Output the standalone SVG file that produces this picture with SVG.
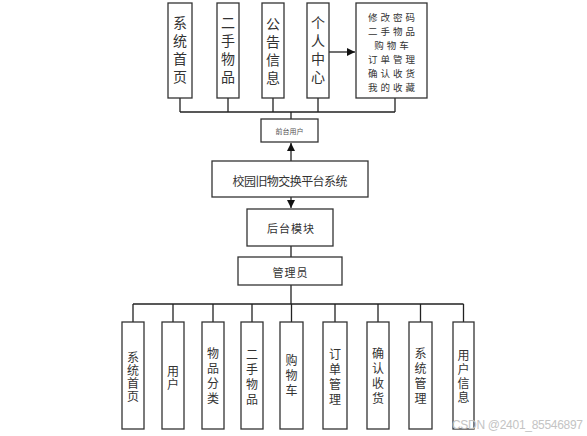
<svg xmlns="http://www.w3.org/2000/svg" width="587" height="436" viewBox="0 0 587 436">
<defs>
<style>
.box{fill:#fff;stroke:#333;stroke-width:1.3}
.ln{stroke:#222;stroke-width:1.3;fill:none}
.t{font-family:"Noto Sans CJK SC","Liberation Sans",sans-serif;fill:#333;text-anchor:middle;dominant-baseline:central}
.vt{writing-mode:vertical-rl;text-orientation:upright}
.v14{font-size:14px;letter-spacing:4px}
.v12{font-size:12px;letter-spacing:3px}
.m11{font-size:11px;letter-spacing:1px}
.s{font-size:9.5px;letter-spacing:3px}
</style>
<marker id="ah" viewBox="0 0 10 10" refX="10" refY="5" markerWidth="8" markerHeight="8" markerUnits="userSpaceOnUse" orient="auto">
<path d="M0,0 L10,5 L0,10 z" fill="#111"/>
</marker>
</defs>
<rect width="587" height="436" fill="#fff"/>
<g id="connectors">
<path class="ln" d="M180,98V112M228,98V112M273,98V112M318,98V112M395,98V112M180,112H395M291,112V119"/>
<path class="ln" d="M329,52H355" marker-end="url(#ah)"/>
<path class="ln" d="M291,161V143" marker-end="url(#ah)"/>
<path class="ln" d="M291,197V208" marker-end="url(#ah)"/>
<path class="ln" d="M291,246V257M291,285V304M133,304H463.5"/>
<path class="ln" d="M133,304V322M173,304V322M213,304V322M252,304V322M291.5,304V322M335,304V322M378,304V322M420.5,304V322M463.5,304V322"/>
</g>
<g id="n-xtsy"><rect class="box" x="168" y="3" width="24" height="95"/>
<text class="t vt v14" x="180" y="52">系统首页</text></g>
<g id="n-eswp"><rect class="box" x="217" y="3" width="22" height="95"/>
<text class="t vt v14" x="228" y="52">二手物品</text></g>
<g id="n-ggxx"><rect class="box" x="262" y="3" width="22" height="95"/>
<text class="t vt v14" x="273" y="53">公告信息</text></g>
<g id="n-grzx"><rect class="box" x="307" y="3" width="22" height="95"/>
<text class="t vt v14" x="318" y="52">个人中心</text></g>
<g id="n-grzx-items"><rect class="box" x="356" y="3" width="71" height="95"/>
<text class="t s"><tspan x="393" y="17">修改密码</tspan><tspan x="393" y="31">二手物品</tspan><tspan x="393" y="45">购物车</tspan><tspan x="393" y="59">订单管理</tspan><tspan x="393" y="73">确认收货</tspan><tspan x="393" y="87">我的收藏</tspan></text></g>
<g id="n-qtyh"><rect class="box" x="261" y="119" width="57" height="23"/>
<text class="t" x="289.5" y="131" style="font-size:7px;fill:#555">前台用户</text></g>
<g id="n-main"><rect class="box" x="212" y="161" width="156" height="36"/>
<text class="t" x="290" y="180" style="font-size:12px" textLength="115">校园旧物交换平台系统</text></g>
<g id="n-htmk"><rect class="box" x="247" y="209" width="86" height="37"/>
<text class="t m11" x="291" y="228">后台模块</text></g>
<g id="n-gly"><rect class="box" x="238" y="257" width="104" height="28"/>
<text class="t m11" x="290.5" y="272">管理员</text></g>
<g id="b-xtsy"><rect class="box" x="122" y="322" width="22" height="107"/>
<text class="t vt v12" x="133" y="377" style="letter-spacing:1px">系统首页</text></g>
<g id="b-yh"><rect class="box" x="162" y="322" width="22" height="107"/>
<text class="t vt v12" x="173" y="378" style="letter-spacing:1px">用户</text></g>
<g id="b-wpfl"><rect class="box" x="202" y="322" width="22" height="107"/>
<text class="t vt v12" x="213" y="377">物品分类</text></g>
<g id="b-eswp"><rect class="box" x="241" y="322" width="22" height="107"/>
<text class="t vt v12" x="252" y="378">二手物品</text></g>
<g id="b-gwc"><rect class="box" x="280" y="322" width="23" height="107"/>
<text class="t vt v12" x="291.5" y="376.5">购物车</text></g>
<g id="b-ddgl"><rect class="box" x="323" y="322" width="24" height="107"/>
<text class="t vt v12" x="335" y="378">订单管理</text></g>
<g id="b-qrsh"><rect class="box" x="367" y="322" width="22" height="107"/>
<text class="t vt v12" x="378" y="377">确认收货</text></g>
<g id="b-xtgl"><rect class="box" x="409" y="322" width="23" height="107"/>
<text class="t vt v12" x="420.5" y="377">系统管理</text></g>
<g id="b-yhxx"><rect class="box" x="453" y="322" width="21" height="107"/>
<text class="t vt v12" x="463.5" y="377" style="letter-spacing:2px">用户信息</text></g>
<text x="452" y="429" font-family="Liberation Sans, sans-serif" font-size="12" fill="#c4c4c4" textLength="131">CSDN @2401_85546897</text>
</svg>
